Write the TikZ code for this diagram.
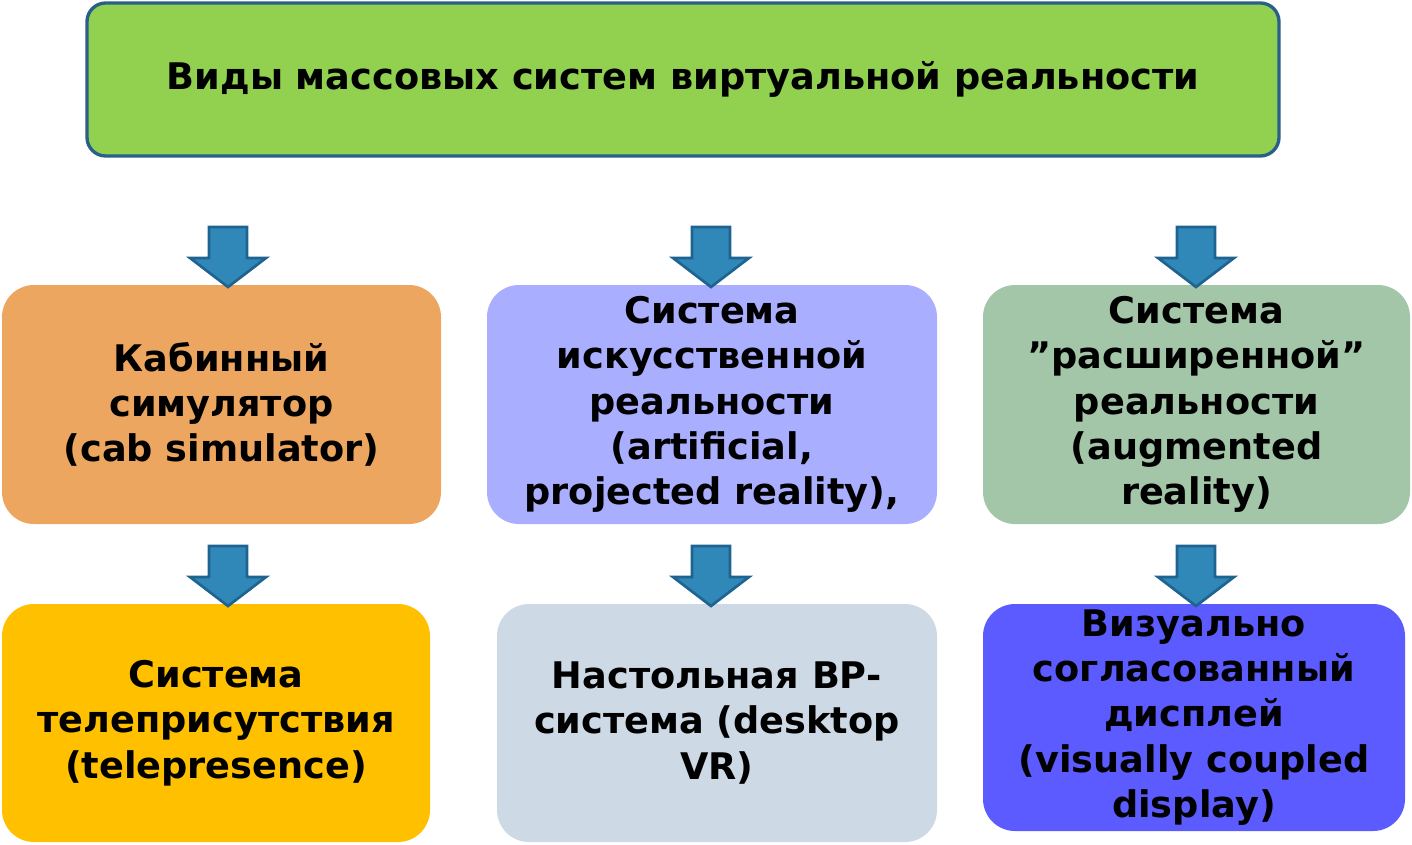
\documentclass[tikz,border=0pt]{standalone}
\usepackage{fontspec}
\setmainfont{DejaVu Sans}
\definecolor{topg}{HTML}{92D050}
\definecolor{topb}{HTML}{2A5F8A}
\definecolor{c1}{HTML}{EDA660}
\definecolor{c2}{HTML}{AAAEFF}
\definecolor{c3}{HTML}{A3C6A8}
\definecolor{c4}{HTML}{FFC000}
\definecolor{c5}{HTML}{CDD9E5}
\definecolor{c6}{HTML}{5B5BFF}
\definecolor{arf}{HTML}{3088B8}
\definecolor{ard}{HTML}{1F6390}
\begin{document}
\begin{tikzpicture}[x=0.75pt,y=-0.75pt,
  box/.style={rounded corners=24pt,inner sep=0pt,align=center,font=\fontsize{27.5}{34}\selectfont\bfseries},
  arr/.style={fill=arf,draw=ard,line width=2pt,line join=miter}]
\useasboundingbox (0,0) rectangle (1412,844);
\node[box,rounded corners=14pt,fill=topg,draw=topb,line width=2.5pt,minimum width=0.75*1192pt,minimum height=0.75*153pt] (top) at (683,79.5)
  {Виды массовых систем виртуальной реальности};
\node[box,fill=c1,minimum width=0.75*439pt,minimum height=0.75*239pt] (a) at (221.5,404.5) {Кабинный\\симулятор\\ (cab simulator)};
\node[box,fill=c2,minimum width=0.75*450pt,minimum height=0.75*239pt] (b) at (712,404.5) {Система\\искусственной\\реальности\\(artificial,\\projected reality),};
\node[box,fill=c3,minimum width=0.75*427pt,minimum height=0.75*239pt] (c) at (1196.5,404.5) {Система\\\symbol{34}расширенной\symbol{34}\\реальности\\(augmented\\reality)};
\node[box,fill=c4,minimum width=0.75*428pt,minimum height=0.75*238pt] (d) at (216,723) {Система\\телеприсутствия\\(telepresence)};
\node[box,fill=c5,minimum width=0.75*440pt,minimum height=0.75*238pt] (e) at (717,723) {Настольная ВР-\\система (desktop\\VR)};
\node[box,fill=c6,minimum width=0.75*422pt,minimum height=0.75*227pt] (f) at (1194,717.5) {Визуально\\согласованный\\дисплей\\(visually coupled\\display)};
\foreach \x in {228,711,1196}{
  \foreach \y in {227,546}{
    \draw[arr] (\x-19,\y) -- (\x+19,\y) -- (\x+19,\y+31) -- (\x+38,\y+31) -- (\x,\y+60) -- (\x-38,\y+31) -- (\x-19,\y+31) -- cycle;
  }}
\end{tikzpicture}
\end{document}
